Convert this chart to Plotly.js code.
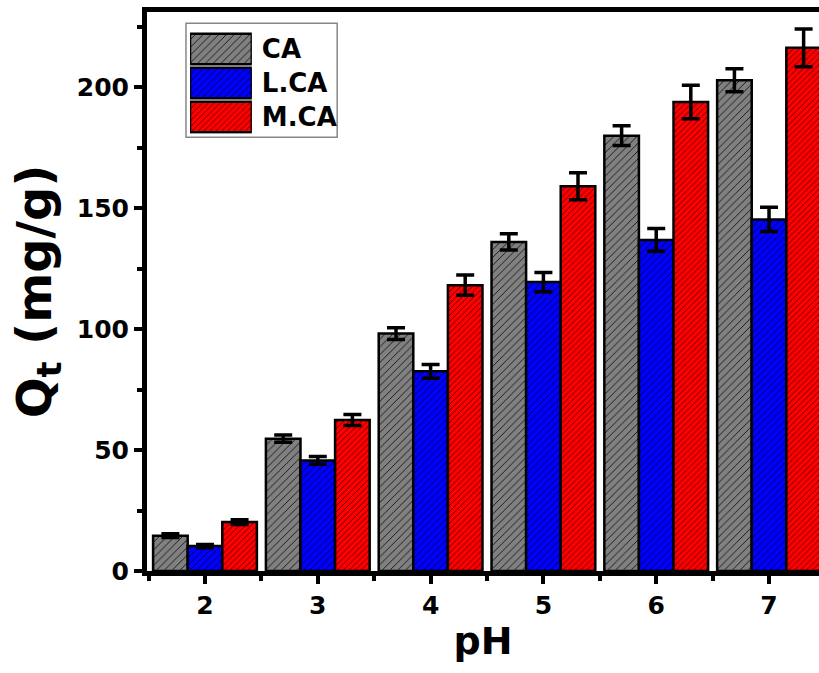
<!DOCTYPE html>
<html>
<head>
<meta charset="utf-8">
<script src="https://cdn.plot.ly/plotly-3.0.1.min.js"></script>
<style>html,body{margin:0;padding:0;background:#fff;}#chart{width:819px;height:673px;}</style>
</head>
<body>
<div id="chart"></div>
<script>
// ---- data ----
const pH = [2, 3, 4, 5, 6, 7];
const seriesNames = ["CA", "L.CA", "M.CA"];
const ca     = [14.6, 54.7, 98.1, 136.0, 179.9, 202.8];
const caErr  = [0.8, 1.5, 2.4, 3.4, 4.1, 4.8];
const lca    = [10.3, 45.7, 82.5, 119.4, 136.8, 145.3];
const lcaErr = [0.7, 1.6, 2.8, 4.0, 4.7, 5.0];
const mca    = [20.2, 62.4, 118.1, 159.0, 193.8, 216.2];
const mcaErr = [1.0, 2.3, 4.2, 5.6, 6.9, 7.8];
const xTickLabels = ["2", "3", "4", "5", "6", "7"];

// ---- styles ----
const colors = ["#808080", "#0000ff", "#ff0000"];
const patSizes = [5.5, 5, 4.2];
const FONT = "DejaVu Sans, Liberation Sans, Arial, sans-serif";

const values = [ca, lca, mca];
const errs = [caErr, lcaErr, mcaErr];

function pattern(i) {
  return {shape: "/", fillmode: "replace", bgcolor: colors[i], fgcolor: "#000", size: patSizes[i], solidity: 0.14};
}

const traces = seriesNames.map((name, i) => ({
  type: "bar",
  name: name,
  x: pH,
  y: values[i],
  showlegend: false,
  marker: {color: colors[i], line: {color: "#000", width: 2.5}, pattern: pattern(i)},
  error_y: {type: "data", array: errs[i], visible: true, color: "#000", thickness: 3.5, width: 9}
}));

// legend swatches drawn on a small helper subplot (one bar per series)
seriesNames.forEach((name, i) => {
  traces.push({
    type: "bar",
    orientation: "h",
    x: [1],
    y: [name],
    xaxis: "x2",
    yaxis: "y2",
    width: 0.9,
    showlegend: false,
    hoverinfo: "skip",
    marker: {color: colors[i], line: {color: "#000", width: 2.5}, pattern: pattern(i)}
  });
});

const layout = {
  width: 819,
  height: 673,
  margin: {l: 147, r: 0, t: 12, b: 102},
  paper_bgcolor: "#fff",
  plot_bgcolor: "#fff",
  barmode: "group",
  bargap: 0.08,
  bargroupgap: 0,
  showlegend: false,
  font: {family: FONT, color: "#000"},
  xaxis: {
    range: [1.486, 7.443],
    tickmode: "array",
    tickvals: pH,
    ticktext: xTickLabels,
    showgrid: false,
    zeroline: false,
    showline: true,
    linecolor: "#000",
    linewidth: 5,
    mirror: true,
    ticks: "outside",
    ticklen: 8,
    tickwidth: 4,
    tickcolor: "#000",
    minor: {tickmode: "linear", tick0: 1.5, dtick: 1, ticks: "outside", ticklen: 5, tickwidth: 4, tickcolor: "#000"},
    tickfont: {family: FONT, size: 25, weight: 700, color: "#000"},
    title: {text: "pH", font: {family: FONT, size: 38, weight: 700, color: "#000"}, standoff: 10}
  },
  yaxis: {
    range: [0, 231],
    tickmode: "linear",
    tick0: 0,
    dtick: 50,
    showgrid: false,
    zeroline: false,
    showline: true,
    linecolor: "#000",
    linewidth: 5,
    mirror: false,
    ticks: "outside",
    ticklen: 8,
    tickwidth: 4,
    tickcolor: "#000",
    minor: {tickmode: "linear", tick0: 0, dtick: 25, ticks: "outside", ticklen: 5, tickwidth: 4, tickcolor: "#000"},
    tickfont: {family: FONT, size: 25, weight: 700, color: "#000"},
    title: {text: "Q<sub>t</sub> (mg/g)", font: {family: FONT, size: 48, weight: 700, color: "#000"}, standoff: 12}
  },
  xaxis2: {
    domain: [0.064, 0.156],
    anchor: "y2",
    range: [0, 1],
    visible: false,
    fixedrange: true
  },
  yaxis2: {
    domain: [0.782, 0.964],
    anchor: "x2",
    type: "category",
    autorange: "reversed",
    side: "right",
    showline: false,
    showgrid: false,
    zeroline: false,
    ticks: "",
    ticklabelstandoff: 9,
    tickfont: {family: FONT, size: 26, weight: 700, color: "#000"},
    fixedrange: true
  },
  shapes: [{
    type: "rect", xref: "paper", yref: "paper",
    x0: 0.058, x1: 0.283, y0: 0.776, y1: 0.980,
    line: {color: "#888", width: 1.5}, fillcolor: "rgba(0,0,0,0)", layer: "below"
  }]
};

Plotly.newPlot("chart", traces, layout, {displayModeBar: false, staticPlot: true});
</script>
</body>
</html>
